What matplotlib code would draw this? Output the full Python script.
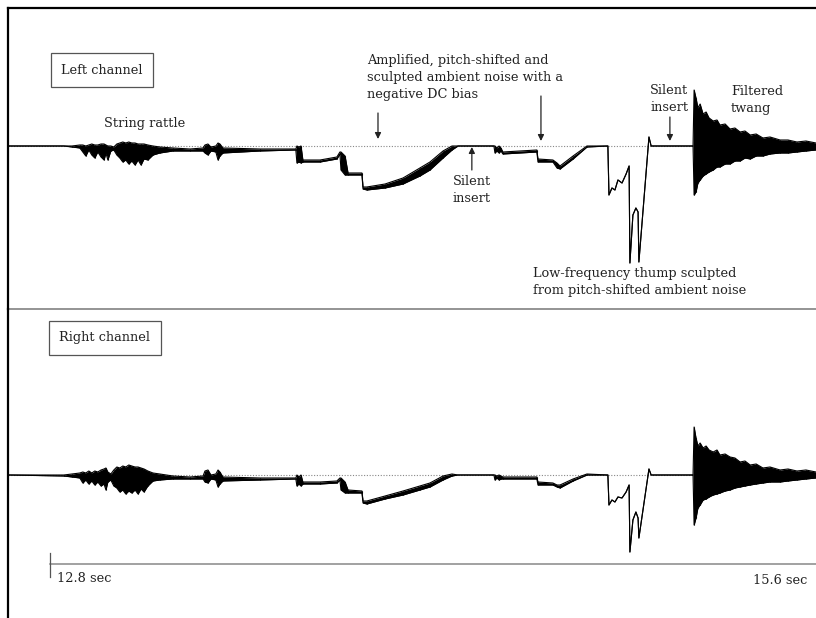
import numpy as np
import matplotlib
matplotlib.use("Agg")
import matplotlib.pyplot as plt

# time in seconds, amplitude relative to the zero line (envelope: top / bottom)
t = [12.646, 12.851, 12.881, 12.910, 12.921, 12.932, 12.943, 12.954, 12.965, 12.976,
     12.988, 12.999, 13.006, 13.013, 13.024, 13.035, 13.046, 13.057, 13.068, 13.079,
     13.090, 13.101, 13.113, 13.124, 13.135, 13.146, 13.160, 13.179, 13.204, 13.252,
     13.315, 13.363, 13.370, 13.381, 13.392, 13.410, 13.418, 13.425, 13.436, 13.572,
     13.704, 13.708, 13.715, 13.723, 13.730, 13.793, 13.855, 13.866, 13.870, 13.885,
     13.896, 13.947, 13.951, 13.965, 14.032, 14.098, 14.160, 14.197, 14.245, 14.278,
     14.300, 14.432, 14.436, 14.443, 14.451, 14.458, 14.465, 14.590, 14.594, 14.649,
     14.664, 14.675, 14.723, 14.774, 14.851, 14.855, 14.866, 14.877, 14.888, 14.903,
     14.918, 14.929, 14.932, 14.943, 14.954, 14.962, 14.965, 15.002, 15.010, 15.164,
     15.168, 15.175, 15.182, 15.190, 15.201, 15.212, 15.223, 15.238, 15.252, 15.263,
     15.282, 15.300, 15.318, 15.337, 15.355, 15.374, 15.396, 15.421, 15.447, 15.484,
     15.513, 15.546, 15.579, 15.616]

left_top = [0, 0, 0, 0.01, 0.01, 0, 0.01, 0.02, 0.01, 0.01,
            0.02, 0.02, 0.01, 0, 0, -0.01, 0.02, 0.03, 0.04, 0.03,
            0.04, 0.03, 0.03, 0.02, 0.02, 0.02, 0.01, 0, -0.01, -0.02,
            -0.03, -0.02, 0.01, 0.02, -0.01, 0, 0.03, 0.02, -0.02, -0.03,
            -0.03, 0, -0.01, 0, -0.14, -0.14, -0.11, -0.06, -0.06, -0.10,
            -0.27, -0.27, -0.41, -0.41, -0.38, -0.32, -0.22, -0.16, -0.05, 0,
            0, 0, 0, -0.02, 0, -0.02, -0.06, -0.04, -0.13, -0.14,
            -0.17, -0.20, -0.10, 0, 0, -0.49, -0.42, -0.44, -0.34, -0.37,
            -0.28, -0.20, -1.17, -0.69, -0.62, -0.66, -1.16, 0.09, 0, 0,
            0.56, 0.48, 0.38, 0.42, 0.32, 0.34, 0.28, 0.25, 0.26, 0.21,
            0.22, 0.17, 0.18, 0.14, 0.15, 0.11, 0.12, 0.08, 0.09, 0.06,
            0.06, 0.04, 0.05, 0.03]
left_bot = [0, 0, -0.01, -0.02, -0.06, -0.10, -0.04, -0.09, -0.12, -0.06,
            -0.11, -0.14, -0.07, -0.14, -0.05, -0.04, -0.09, -0.12, -0.16, -0.14,
            -0.18, -0.15, -0.19, -0.14, -0.19, -0.13, -0.14, -0.09, -0.07, -0.05,
            -0.05, -0.05, -0.07, -0.09, -0.05, -0.06, -0.14, -0.10, -0.07, -0.05,
            -0.04, -0.17, -0.16, -0.17, -0.16, -0.16, -0.13, -0.08, -0.24, -0.29,
            -0.29, -0.29, -0.43, -0.44, -0.42, -0.38, -0.30, -0.24, -0.12, -0.04,
            0, 0, -0.07, -0.05, -0.07, -0.05, -0.08, -0.06, -0.16, -0.16,
            -0.22, -0.23, -0.13, -0.01, 0, -0.49, -0.42, -0.44, -0.34, -0.37,
            -0.28, -0.20, -1.17, -0.69, -0.62, -0.66, -1.16, 0.09, 0, 0,
            -0.49, -0.46, -0.37, -0.34, -0.30, -0.28, -0.26, -0.24, -0.21, -0.21,
            -0.18, -0.18, -0.15, -0.15, -0.12, -0.13, -0.10, -0.10, -0.08, -0.07,
            -0.07, -0.06, -0.05, -0.04]

right_top = [0, 0, 0.01, 0.02, 0.03, 0.02, 0.04, 0.02, 0.04, 0.03,
             0.05, 0.06, 0.07, 0.03, 0.01, 0.05, 0.08, 0.07, 0.09, 0.08,
             0.10, 0.09, 0.08, 0.08, 0.07, 0.06, 0.04, 0.02, 0.01, -0.01,
             -0.02, -0.01, 0.04, 0.05, 0, 0.01, 0.05, 0.03, -0.02, -0.03,
             -0.03, 0, -0.02, 0, -0.07, -0.07, -0.06, -0.03, -0.03, -0.07,
             -0.15, -0.16, -0.26, -0.26, -0.21, -0.16, -0.11, -0.08, -0.01, 0.01,
             0, 0, 0, -0.01, 0, -0.01, -0.02, -0.02, -0.07, -0.08,
             -0.10, -0.10, -0.04, 0.01, 0, -0.30, -0.25, -0.27, -0.22, -0.23,
             -0.17, -0.10, -0.77, -0.45, -0.37, -0.43, -0.63, 0.06, 0, 0,
             0.48, 0.37, 0.29, 0.32, 0.27, 0.29, 0.25, 0.23, 0.25, 0.20,
             0.21, 0.18, 0.17, 0.13, 0.14, 0.10, 0.11, 0.07, 0.08, 0.05,
             0.06, 0.04, 0.05, 0.03]
right_bot = [0, -0.01, -0.02, -0.03, -0.08, -0.05, -0.09, -0.06, -0.10, -0.07,
             -0.11, -0.09, -0.15, -0.07, -0.05, -0.11, -0.13, -0.17, -0.15, -0.19,
             -0.16, -0.18, -0.15, -0.19, -0.14, -0.17, -0.11, -0.06, -0.05, -0.04,
             -0.04, -0.04, -0.07, -0.08, -0.04, -0.05, -0.12, -0.09, -0.06, -0.05,
             -0.04, -0.11, -0.09, -0.11, -0.09, -0.09, -0.08, -0.05, -0.15, -0.18,
             -0.18, -0.18, -0.28, -0.29, -0.24, -0.20, -0.15, -0.12, -0.05, -0.01,
             0, 0, -0.05, -0.03, -0.05, -0.04, -0.04, -0.04, -0.10, -0.10,
             -0.12, -0.13, -0.06, 0, 0, -0.30, -0.25, -0.27, -0.22, -0.23,
             -0.17, -0.10, -0.77, -0.45, -0.37, -0.43, -0.63, 0.06, 0, 0,
             -0.50, -0.43, -0.33, -0.30, -0.25, -0.24, -0.22, -0.20, -0.19, -0.18,
             -0.16, -0.15, -0.13, -0.12, -0.11, -0.10, -0.09, -0.08, -0.07, -0.07,
             -0.06, -0.05, -0.04, -0.03]

t_start, t_end = 12.8, 15.6
xlim = (12.646, 15.616)

FONT = "DejaVu Serif"
TXT = "#222222"
FS = 9.3


def draw_wave(ax, top, bot):
    ax.axhline(0, color="#888888", lw=0.8, ls=(0, (1, 1.5)), zorder=1)
    ax.fill_between(t, bot, top, color="black", lw=0, zorder=2)
    # thin vertical strokes give the dense-sample look of a waveform display
    ax.vlines(t, bot, top, color="black", lw=0.8, zorder=2)
    ax.plot(t, top, color="black", lw=0.8, zorder=3)
    ax.plot(t, bot, color="black", lw=0.8, zorder=3)


def arrow(ax, x, y0, y1):
    ax.annotate("", xy=(x, y1), xytext=(x, y0),
                arrowprops=dict(arrowstyle="-|>", color=TXT, lw=0.9,
                                mutation_scale=9, shrinkA=0, shrinkB=0))


def label(ax, x, y, s, **kw):
    ax.text(x, y, s, family=FONT, fontsize=FS, color=TXT, linespacing=1.38, **kw)


fig = plt.figure(figsize=(8.16, 6.18), dpi=100)
axL = fig.add_axes([8 / 816, 0.5, 1 - 8 / 816, 301 / 618])
axR = fig.add_axes([8 / 816, 0.0, 1 - 8 / 816, 0.5])

for ax in (axL, axR):
    ax.set_xlim(xlim)
    ax.set_xticks([])
    ax.set_yticks([])
    ax.patch.set_alpha(0)
    for s in ax.spines.values():
        s.set_visible(False)
    ax.spines["left"].set_visible(True)
    ax.spines["left"].set_linewidth(1.6)
    ax.spines["left"].set_color("black")

axL.set_ylim(-1.63, 1.38)
axR.set_ylim(-1.43, 1.66)
axL.spines["top"].set_visible(True)
axL.spines["top"].set_linewidth(1.6)
axL.spines["top"].set_color("black")
axL.spines["bottom"].set_visible(True)
axL.spines["bottom"].set_linewidth(1.1)
axL.spines["bottom"].set_color("#777777")

draw_wave(axL, left_top, left_bot)
draw_wave(axR, right_top, right_bot)

# channel boxes
box = dict(boxstyle="square,pad=0.8", fc="white", ec="#555555", lw=0.9)
label(axL, 12.991, 0.76, "Left channel", ha="center", va="center", bbox=box)
label(axR, 13.002, 1.37, "Right channel", ha="center", va="center", bbox=box)

# annotations, left channel
label(axL, 12.999, 0.23, "String rattle", ha="left", va="center")
label(axL, 13.965, 0.92, "Amplified, pitch-shifted and\nsculpted ambient noise with a\nnegative DC bias",
      ha="left", va="top")
arrow(axL, 14.006, 0.33, 0.07)
arrow(axL, 14.605, 0.50, 0.05)
label(axL, 14.351, -0.29, "Silent\ninsert", ha="center", va="top")
arrow(axL, 14.351, -0.24, -0.01)
label(axL, 15.006, 0.62, "Silent\ninsert", ha="left", va="top")
arrow(axL, 15.079, 0.29, 0.05)
label(axL, 15.304, 0.61, "Filtered\ntwang", ha="left", va="top")
label(axL, 14.576, -1.21, "Low-frequency thump sculpted\nfrom pitch-shifted ambient noise",
      ha="left", va="top")

# time scale
axR.plot([t_start, xlim[1]], [-0.89, -0.89], color="#888888", lw=1.1, clip_on=False)
axR.plot([t_start, t_start], [-0.78, -1.02], color="#555555", lw=0.9)
label(axR, 12.826, -1.04, "12.8 sec", ha="left", va="center")
label(axR, 15.583, -1.05, "15.6 sec", ha="right", va="center")

fig.savefig("out.png", dpi=100)
